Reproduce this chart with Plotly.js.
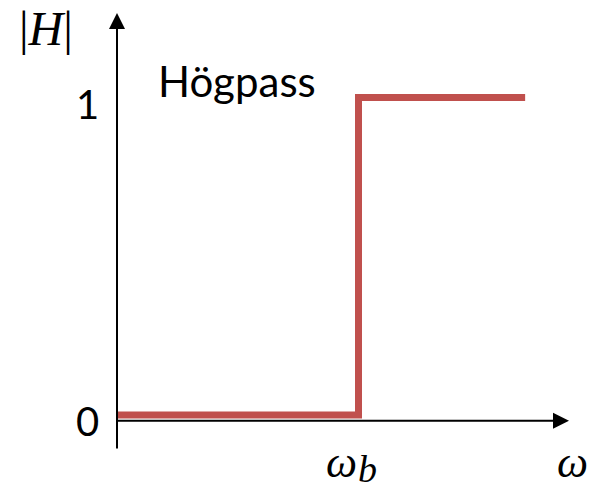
<!DOCTYPE html>
<html>
<head>
<meta charset="utf-8">
<script src="https://cdn.plot.ly/plotly-3.0.1.min.js"></script>
<style>html,body{margin:0;padding:0;background:#fff;}#chart{width:589px;height:491px;}</style>
</head>
<body>
<div id="chart"></div>
<script>
// Data (x in units of the break frequency ω_b)
const omega = [0, 1, 1.69];
const magnitude = [0, 1, 1];
const yTickValues = [0, 1];
const yTickLabels = ['0', '1'];
const filterName = 'Högpass';
const yAxisLabel = '|<i>H</i>|';
const breakLabel = 'ω';
const breakSub = 'b';
const xAxisLabel = 'ω';

const W = 589, H = 491;
// pixel helpers for layout only
const px = v => v / W;
const py = v => 1 - v / H;

// axis scales: x=0 at px 117, x=1 at px 358.5 ; y=0 at px 415, y=1 at px 97.5
const sx = 241.5, x0 = 117;
const sy = 317.5, y0 = 415;
const xr = [-x0 / sx, (W - x0) / sx];
const yr = [-(H - y0) / sy, y0 / sy];

const serif = '"Liberation Serif", "DejaVu Serif", serif';
const sans = 'Lato, "Open Sans", sans-serif';

const trace = {
  x: omega, y: magnitude, type: 'scatter', mode: 'lines',
  line: {shape: 'hv', color: '#C0504D', width: 7},
  hoverinfo: 'skip', showlegend: false
};

const annotations = [];
// axes arrows
annotations.push({xref: 'paper', yref: 'paper', x: px(569), y: py(420.7), ax: 117 - 2 - 569, ay: 0,
  text: '', showarrow: true, arrowhead: 2, arrowsize: 1.6, arrowwidth: 2, arrowcolor: '#000', standoff: 0});
annotations.push({xref: 'paper', yref: 'paper', x: px(117), y: py(13), ax: 0, ay: 450 - 13,
  text: '', showarrow: true, arrowhead: 2, arrowsize: 1.6, arrowwidth: 2, arrowcolor: '#000', standoff: 0});
// y tick labels
yTickValues.forEach((v, i) => {
  annotations.push({xref: 'paper', yref: 'y', x: px(87), y: v, yshift: -6,
    text: yTickLabels[i], showarrow: false, xanchor: 'center', yanchor: 'middle',
    font: {family: sans, size: 40, color: '#000'}});
});
// y axis label
annotations.push({xref: 'paper', yref: 'paper', x: px(46), y: py(28), text: yAxisLabel,
  showarrow: false, xanchor: 'center', yanchor: 'middle', font: {family: serif, size: 48, color: '#000'}});
// filter name
annotations.push({xref: 'paper', yref: 'paper', x: px(237), y: py(81), text: filterName,
  showarrow: false, xanchor: 'center', yanchor: 'middle', font: {family: sans, size: 42, color: '#000'}});
// x labels
annotations.push({xref: 'x', yref: 'paper', x: omega[1], xshift: -17, y: py(462), text: '<i>' + breakLabel + '</i>',
  showarrow: false, xanchor: 'center', yanchor: 'middle', font: {family: serif, size: 44, color: '#000'}});
annotations.push({xref: 'x', yref: 'paper', x: omega[1], xshift: 9, y: 0, text: '<i>' + breakSub + '</i>',
  showarrow: false, xanchor: 'center', yanchor: 'bottom', borderpad: 0, font: {family: serif, size: 38, color: '#000'}});
annotations.push({xref: 'paper', yref: 'paper', x: px(572), y: py(462), text: '<i>' + xAxisLabel + '</i>',
  showarrow: false, xanchor: 'center', yanchor: 'middle', font: {family: serif, size: 44, color: '#000'}});

const layout = {
  width: W, height: H,
  margin: {l: 0, r: 0, t: 0, b: 0, pad: 0},
  paper_bgcolor: '#fff', plot_bgcolor: '#fff',
  xaxis: {range: xr, visible: false, fixedrange: true},
  yaxis: {range: yr, visible: false, fixedrange: true},
  annotations: annotations,
  showlegend: false
};

Plotly.newPlot('chart', [trace], layout, {staticPlot: true, displayModeBar: false});
</script>
</body>
</html>
